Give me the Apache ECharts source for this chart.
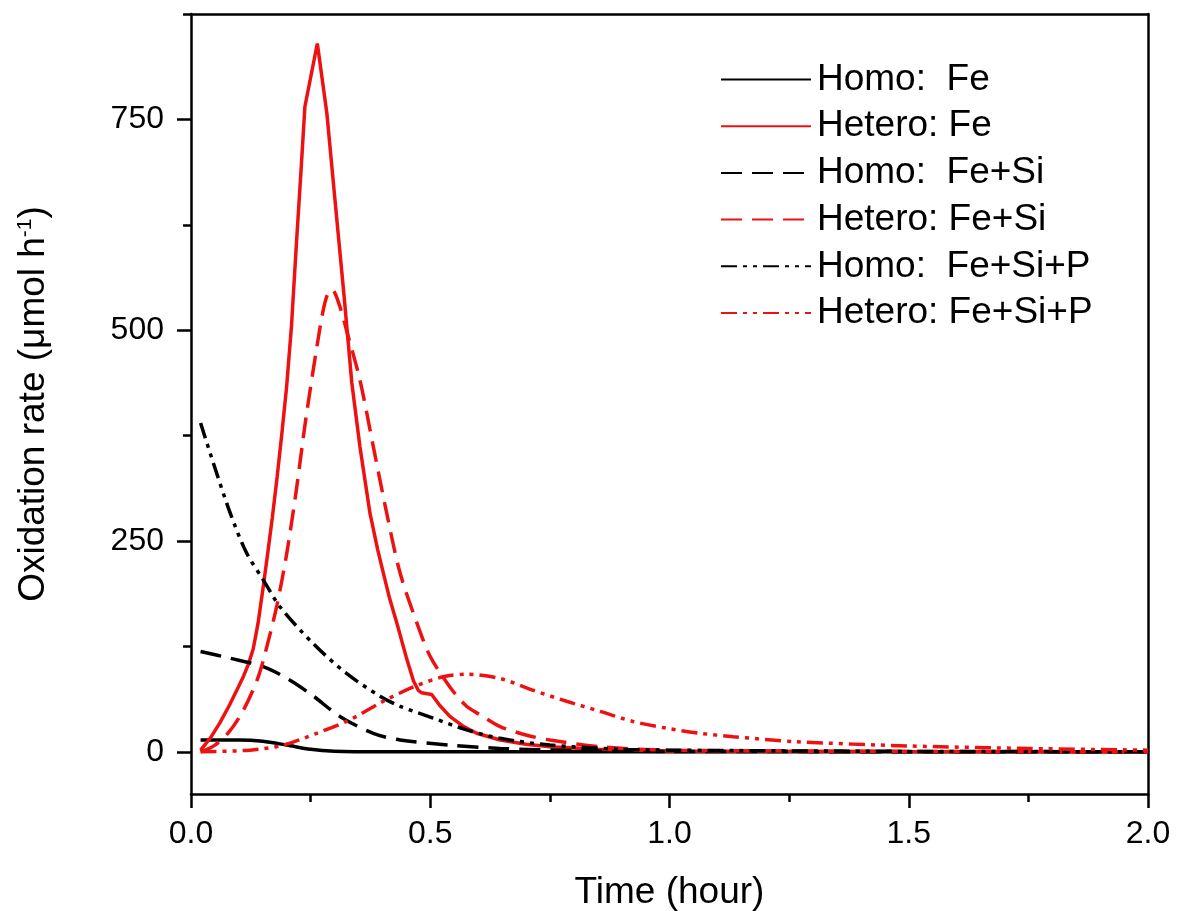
<!DOCTYPE html>
<html>
<head>
<meta charset="utf-8">
<script src="https://cdn.jsdelivr.net/npm/echarts@6/dist/echarts.min.js"></script>
<style>
  html, body { margin: 0; padding: 0; background: #fff; }
  #chart { width: 1179px; height: 911px; }
</style>
</head>
<body>
<div id="chart"></div>
<script>
// Oxidation rate curves, [time (hour), rate (µmol h^-1)]
const homoFe = [[0.02,14],[0.1,14],[0.15,12.5],[0.2,8],[0.25,3],[0.3,0.8],[0.4,0.1],[1.0,0],[2.0,0]];
const heteroFe = [[0.02,2],[0.04,16],[0.06,34],[0.08,55],[0.1,78],[0.11,90],[0.12,104],[0.13,122],[0.14,152],[0.15,192],[0.16,234],[0.17,278],[0.18,326],[0.19,378],[0.2,434],[0.21,505],[0.22,600],[0.23,690],[0.238,765],[0.264,840],[0.284,757],[0.297,678],[0.31,600],[0.32,540],[0.336,438],[0.353,362],[0.374,283],[0.39,240],[0.402,212],[0.415,182],[0.43,153],[0.45,112],[0.465,84],[0.475,73],[0.482,70],[0.503,68],[0.52,55],[0.541,42],[0.57,30],[0.597,22],[0.646,14],[0.7,9],[0.75,6],[0.85,3],[1.0,1],[1.5,0.3],[2.0,0.1]];
const homoFeSi = [[0.02,119],[0.082,111],[0.151,101],[0.207,85],[0.256,66],[0.311,42],[0.381,22],[0.437,14],[0.541,8],[0.646,4],[0.8,1.5],[1.0,0.5],[2.0,0]];
const heteroFeSi = [[0.02,0],[0.05,8],[0.08,24],[0.11,50],[0.14,88],[0.16,128],[0.18,175],[0.2,235],[0.22,310],[0.24,395],[0.263,480],[0.275,520],[0.285,542],[0.295,548],[0.31,530],[0.325,500],[0.353,441],[0.381,362],[0.409,283],[0.437,212],[0.472,153],[0.5,113],[0.541,77],[0.576,54],[0.604,44],[0.646,30],[0.7,20],[0.75,14],[0.855,6],[1.0,2],[1.5,0.5],[2.0,0.2]];
const homoFeSiP = [[0.02,390],[0.047,342],[0.082,283],[0.116,236],[0.151,204],[0.186,172],[0.256,128],[0.325,93],[0.395,66],[0.437,54],[0.506,40],[0.576,26],[0.646,16],[0.75,8],[0.9,3],[1.0,2],[1.5,0.5],[2.0,0.2]];
const heteroFeSiP = [[0.02,0],[0.123,2],[0.193,8],[0.263,22],[0.332,38],[0.402,60],[0.465,77],[0.527,89],[0.576,92],[0.646,87],[0.715,73],[0.785,60],[0.855,48],[0.924,36],[0.994,28],[1.064,22],[1.133,18],[1.266,12],[1.5,7],[1.75,4],[2.0,2]];

const seriesNames = ['Homo:  Fe', 'Hetero: Fe', 'Homo:  Fe+Si', 'Hetero: Fe+Si', 'Homo:  Fe+Si+P', 'Hetero: Fe+Si+P'];
const yMajorTicks = [0, 250, 500, 750];
const yMinorTicks = [125, 375, 625, 875];

const FONT = "'Liberation Sans', Arial, sans-serif";
const RED = '#ee1111';
const BLACK = '#000000';
const DASH = [21, 10];
const DASH_DOT_DOT = [16, 6, 4, 6, 4, 6];

function makeLine(name, data, color, type, smooth) {
  return {
    name: name,
    type: 'line',
    data: data,
    showSymbol: false,
    symbol: 'none',
    smooth: smooth,
    lineStyle: { color: color, width: 3.5, type: type },
    itemStyle: { color: color },
    emphasis: { disabled: true }
  };
}

const chart = echarts.init(document.getElementById('chart'));
const axisLineStyle = { color: '#000', width: 2.5 };
const tickStyle = { color: '#000', width: 2.5 };

chart.setOption({
  animation: false,
  backgroundColor: '#fff',
  grid: { left: 191, right: 31, top: 14, bottom: 117, outerBoundsMode: 'none', containLabel: false },
  legend: {
    orient: 'vertical',
    left: 715,
    top: 56,
    itemWidth: 90,
    itemHeight: 14,
    itemGap: 9.7,
    data: seriesNames,
    itemStyle: { opacity: 0 },
    textStyle: { fontFamily: FONT, fontSize: 37, color: '#000', lineHeight: 37, padding: [0, 0, 0, 1] }
  },
  xAxis: [{
    type: 'value',
    min: 0, max: 2, interval: 0.5,
    position: 'bottom',
    name: 'Time (hour)',
    nameLocation: 'middle',
    nameGap: 80,
    nameTextStyle: { fontFamily: FONT, fontSize: 37, color: '#000' },
    axisLine: { show: true, onZero: false, lineStyle: axisLineStyle },
    axisTick: { show: true, inside: false, length: 14, lineStyle: tickStyle },
    minorTick: { show: true, splitNumber: 2, length: 8, lineStyle: tickStyle },
    axisLabel: { fontFamily: FONT, fontSize: 32, color: '#000', margin: 24, formatter: v => v.toFixed(1) },
    splitLine: { show: false }
  }, {
    type: 'value',
    min: 0, max: 2,
    position: 'top',
    axisLine: { show: true, onZero: false, lineStyle: axisLineStyle },
    axisTick: { show: false }, axisLabel: { show: false }, splitLine: { show: false }
  }],
  yAxis: [{
    type: 'value',
    min: -50, max: 875,
    position: 'left',
    name: '{a|Oxidation rate (μmol h}{s|-1}{a|)}',
    nameLocation: 'middle',
    nameGap: 138,
    nameTextStyle: {
      fontFamily: FONT, color: '#000',
      rich: {
        a: { fontFamily: FONT, fontSize: 37, color: '#000' },
        s: { fontFamily: FONT, fontSize: 21, color: '#000', verticalAlign: 'top', padding: [0, 0, 17, 0] }
      }
    },
    axisLine: { show: true, onZero: false, lineStyle: axisLineStyle },
    axisTick: { show: true, inside: false, length: 14, customValues: yMajorTicks, lineStyle: tickStyle },
    axisLabel: { fontFamily: FONT, fontSize: 32, color: '#000', margin: 27, customValues: yMajorTicks },
    splitLine: { show: false }
  }, {
    type: 'value',
    min: -50, max: 875,
    position: 'left',
    axisLine: { show: false },
    axisTick: { show: true, inside: false, length: 8, customValues: yMinorTicks, lineStyle: tickStyle },
    axisLabel: { show: false, customValues: yMinorTicks },
    splitLine: { show: false }
  }, {
    type: 'value',
    min: -50, max: 875,
    position: 'right',
    axisLine: { show: true, onZero: false, lineStyle: axisLineStyle },
    axisTick: { show: false }, axisLabel: { show: false }, splitLine: { show: false }
  }],
  series: [
    makeLine(seriesNames[0], homoFe, BLACK, 'solid', 0.3),
    makeLine(seriesNames[1], heteroFe, RED, 'solid', false),
    makeLine(seriesNames[2], homoFeSi, BLACK, DASH, 0.3),
    makeLine(seriesNames[3], heteroFeSi, RED, DASH, 0.3),
    makeLine(seriesNames[4], homoFeSiP, BLACK, DASH_DOT_DOT, 0.3),
    makeLine(seriesNames[5], heteroFeSiP, RED, DASH_DOT_DOT, 0.3)
  ]
});
</script>
</body>
</html>
